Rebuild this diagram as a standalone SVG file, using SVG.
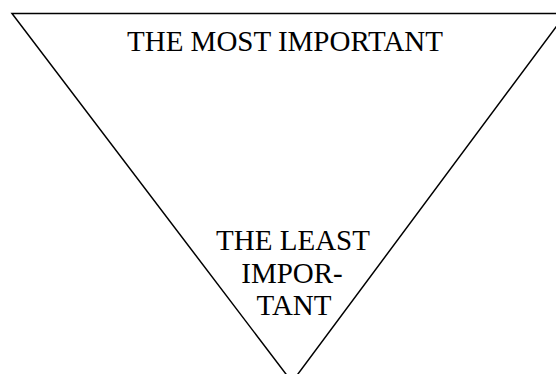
<svg xmlns="http://www.w3.org/2000/svg" width="556" height="374" viewBox="0 0 556 374">
<style>
.t{font-family:"Liberation Serif","Times New Roman",serif;font-size:29px;fill:#000;text-anchor:middle}
</style>
<rect width="556" height="374" fill="#fff"/>
<g id="triangle">
<polygon points="12,13.5 566,13.5 292,382" fill="none" stroke="#000" stroke-width="1.5" stroke-linejoin="miter"/>
</g>
<g id="top-label">
<text class="t" x="285" y="51">THE MOST IMPORTANT</text>
</g>
<g id="bottom-label">
<text class="t" x="293" y="250">THE LEAST</text>
<text class="t" x="292" y="283">IMPOR-</text>
<text class="t" x="294" y="315">TANT</text>
</g>
</svg>
